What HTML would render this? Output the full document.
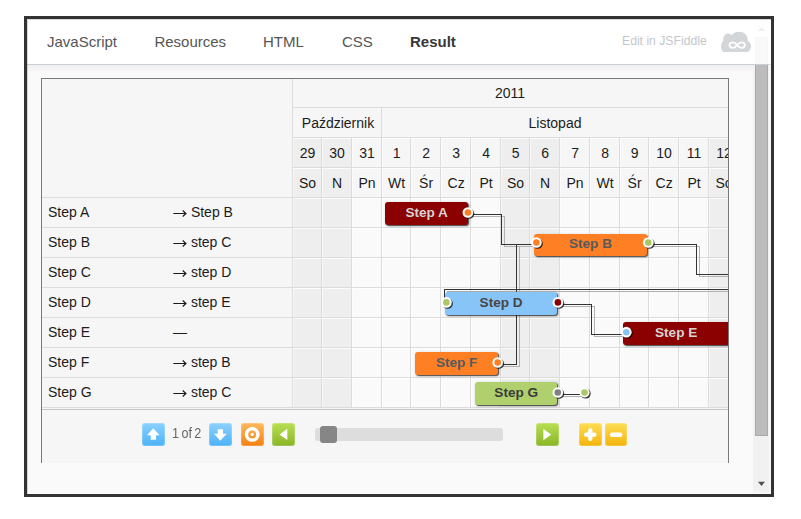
<!DOCTYPE html>
<html>
<head>
<meta charset="utf-8">
<title>Gantt</title>
<style>
*{box-sizing:border-box;margin:0;padding:0}
html,body{width:801px;height:519px;overflow:hidden;background:#fff}
body{font-family:"Liberation Sans",sans-serif;color:#222;position:relative}
.abs{position:absolute}
#frame{position:absolute;left:24px;top:16px;width:750px;height:481px;border:3px solid #333;background:#fafafa;overflow:hidden}
#pg{position:absolute;left:-27px;top:-19px;width:801px;height:519px}
#hdr{position:absolute;left:27px;top:19px;width:726px;height:45px;background:#fff}
#hdrline{position:absolute;left:27px;top:64px;width:744px;height:1px;background:#c8ced4}
#hdrshadow{position:absolute;left:27px;top:65px;width:726px;height:8px;background:linear-gradient(#efefef,#fafafa)}
.tab{position:absolute;top:32px;height:20px;line-height:20px;font-size:15px;color:#555;white-space:nowrap}
.tab.on{font-weight:bold;color:#383838}
#edit{position:absolute;left:622px;top:33px;font-size:12.2px;line-height:16px;color:#c3c7cb;white-space:nowrap}
#sbtrack{position:absolute;left:753px;top:19px;width:18px;height:475px;background:#f1f1f1}
#sbthumb{position:absolute;left:755px;top:37px;width:13px;height:399px;background:#bcbcbc;border:1px solid #a9a9a9}
#hdrover{position:absolute;left:753px;top:19px;width:18px;height:45px;background:rgba(255,255,255,.9)}
#gantt{position:absolute;left:41px;top:78px;width:688px;height:385px;background:#f6f6f6;border:1px solid #7a7a7a;border-bottom:none}
.clip{position:absolute;left:292px;top:79px;width:436px;height:329px;overflow:hidden}
.clip>.in{position:absolute;left:-292px;top:-79px;width:801px;height:519px}
.hl{position:absolute;height:1px;background:#dcdcdc}
.vl{position:absolute;width:1px;background:#dcdcdc}
.wl{background:rgba(255,255,255,.5)}
.txt{position:absolute;font-size:14px;line-height:16px;white-space:nowrap;color:#1c1c1c}
.c{text-align:center}
.arw{display:inline-block;vertical-align:baseline;position:relative;top:1px}
.bar{position:absolute;height:23px;border-radius:3px;box-shadow:1px 1px 1px rgba(0,0,0,.6),1px 1px 3px rgba(0,0,0,.3);font-weight:bold;font-size:13.6px;line-height:20px;text-align:center;white-space:nowrap}
.ep{position:absolute;border-radius:50%;border:2.4px solid #fff;box-shadow:1.2px 1.2px 1.2px rgba(0,0,0,.75)}
.btn{position:absolute;top:423px;width:22.5px;height:22.7px;border-radius:3px;box-shadow:inset 0 0 0 1px rgba(255,255,255,.2)}
.blue{background:linear-gradient(#8bd1fd,#4db2f8)}
.orange{background:linear-gradient(#fdb95e,#f4800e)}
.green{background:linear-gradient(#b9df52,#88b527)}
.yellow{background:linear-gradient(#fedd55,#f3b40c)}
.btn svg{position:absolute;left:0;top:0}
</style>
</head>
<body>
<div id="frame"><div id="pg">
<div id="sbtrack"></div><div id="sbthumb"></div>
<svg class="abs" style="left:754px;top:19px" width="17" height="17"><path d="M4 12 L7.5 8 L11 12 Z" fill="#505050"/></svg>
<svg class="abs" style="left:754px;top:477px" width="17" height="17"><path d="M4 4.7 L11 4.7 L7.5 8.9 Z" fill="#505050"/></svg>
<div id="hdr"></div><div id="hdrover"></div><div id="hdrline"></div><div id="hdrshadow"></div>
<div class="tab" style="left:47px">JavaScript</div>
<div class="tab" style="left:154.4px">Resources</div>
<div class="tab" style="left:263px">HTML</div>
<div class="tab" style="left:342px">CSS</div>
<div class="tab on" style="left:410px">Result</div>
<div id="edit">Edit in JSFiddle</div>
<svg class="abs" style="left:716px;top:28px" width="40" height="28" viewBox="716 28 40 28">
<path fill="#d2d6d9" d="M724.3 52 C722.4 52 721.1 49.5 721.1 46.5 C721.1 44 722 42 723.6 40.6 C723.2 39.5 723.2 38.3 723.5 37.2 C724.2 34.8 726 33.4 727.8 33.4 C729.3 33.4 730.7 34 731.7 35.1 C733.2 33 735.9 31.8 739.2 31.8 C743.8 31.8 747.6 35 747.6 39 C747.6 39.8 747.7 40.5 747.6 41.1 C749.7 41.9 751 43.9 751 46.2 C751 49.5 749 52 746.5 52 Z"/>
<path d="M736.7 45.1 C735.3 43.2 734 42.4 732.3 42.4 C730.4 42.4 729 43.6 729 45.1 C729 46.6 730.4 47.8 732.3 47.8 C734 47.8 735.3 47 736.7 45.1 C738.1 43.2 739.4 42.4 741.1 42.4 C743 42.4 744.4 43.6 744.4 45.1 C744.4 46.6 743 47.8 741.1 47.8 C739.4 47.8 738.1 47 736.7 45.1 Z" fill="none" stroke="#fff" stroke-width="1.8" transform="translate(0.5,0)"/>
</svg>
<div id="gantt"></div>
<div class="clip"><div class="in">
<div class="abs" style="left:292px;top:198px;width:436px;height:210px;background:#fafafa"></div>
<div class="abs" style="left:292px;top:138px;width:59px;height:270px;background:#eeeeee"></div>
<div class="abs" style="left:500px;top:138px;width:59px;height:270px;background:#eeeeee"></div>
<div class="abs" style="left:708px;top:138px;width:62px;height:270px;background:#eeeeee"></div>
<div class="hl wl" style="left:293px;top:138px;width:435px;background:rgba(255,255,255,.75)"></div>
<div class="hl wl" style="left:293px;top:168px;width:435px;background:rgba(255,255,255,.75)"></div>
<div class="hl wl" style="left:293px;top:198px;width:435px;background:rgba(255,255,255,.75)"></div>
<div class="hl wl" style="left:293px;top:228px;width:435px;background:rgba(255,255,255,.75)"></div>
<div class="hl wl" style="left:293px;top:258px;width:435px;background:rgba(255,255,255,.75)"></div>
<div class="hl wl" style="left:293px;top:288px;width:435px;background:rgba(255,255,255,.75)"></div>
<div class="hl wl" style="left:293px;top:318px;width:435px;background:rgba(255,255,255,.75)"></div>
<div class="hl wl" style="left:293px;top:348px;width:435px;background:rgba(255,255,255,.75)"></div>
<div class="hl wl" style="left:293px;top:378px;width:435px;background:rgba(255,255,255,.75)"></div>
<div class="vl wl" style="left:293px;top:138px;height:270px"></div>
<div class="vl wl" style="left:322px;top:138px;height:270px"></div>
<div class="vl wl" style="left:352px;top:138px;height:270px"></div>
<div class="vl wl" style="left:382px;top:138px;height:270px"></div>
<div class="vl wl" style="left:411px;top:138px;height:270px"></div>
<div class="vl wl" style="left:441px;top:138px;height:270px"></div>
<div class="vl wl" style="left:471px;top:138px;height:270px"></div>
<div class="vl wl" style="left:501px;top:138px;height:270px"></div>
<div class="vl wl" style="left:530px;top:138px;height:270px"></div>
<div class="vl wl" style="left:560px;top:138px;height:270px"></div>
<div class="vl wl" style="left:590px;top:138px;height:270px"></div>
<div class="vl wl" style="left:620px;top:138px;height:270px"></div>
<div class="vl wl" style="left:649px;top:138px;height:270px"></div>
<div class="vl wl" style="left:679px;top:138px;height:270px"></div>
<div class="vl wl" style="left:709px;top:138px;height:270px"></div>
<div class="hl" style="left:293px;top:107px;width:435px"></div>
<div class="hl" style="left:293px;top:137px;width:435px"></div>
<div class="hl" style="left:293px;top:167px;width:435px"></div>
</div></div>
<div class="hl" style="left:42px;top:197px;width:686px"></div>
<div class="hl" style="left:42px;top:227px;width:686px"></div>
<div class="hl" style="left:42px;top:257px;width:686px"></div>
<div class="hl" style="left:42px;top:287px;width:686px"></div>
<div class="hl" style="left:42px;top:317px;width:686px"></div>
<div class="hl" style="left:42px;top:347px;width:686px"></div>
<div class="hl" style="left:42px;top:377px;width:686px"></div>
<div class="hl" style="left:42px;top:407px;width:686px"></div>
<div class="vl" style="left:292px;top:79px;height:329px"></div>
<div class="vl" style="left:321px;top:138px;height:270px"></div>
<div class="vl" style="left:351px;top:138px;height:270px"></div>
<div class="vl" style="left:381px;top:108px;height:300px"></div>
<div class="vl" style="left:410px;top:138px;height:270px"></div>
<div class="vl" style="left:440px;top:138px;height:270px"></div>
<div class="vl" style="left:470px;top:138px;height:270px"></div>
<div class="vl" style="left:500px;top:138px;height:270px"></div>
<div class="vl" style="left:529px;top:138px;height:270px"></div>
<div class="vl" style="left:559px;top:138px;height:270px"></div>
<div class="vl" style="left:589px;top:138px;height:270px"></div>
<div class="vl" style="left:619px;top:138px;height:270px"></div>
<div class="vl" style="left:648px;top:138px;height:270px"></div>
<div class="vl" style="left:678px;top:138px;height:270px"></div>
<div class="vl" style="left:708px;top:138px;height:270px"></div>
<div class="txt c" style="left:480px;top:85px;width:60px">2011</div>
<div class="txt c" style="left:293px;top:115px;width:90px">Październik</div>
<div class="txt c" style="left:505px;top:115px;width:100px">Listopad</div>
<div class="clip"><div class="in">
<div class="txt c" style="left:293.6px;top:145px;width:28px">29</div>
<div class="txt c" style="left:293.6px;top:175px;width:28px">So</div>
<div class="txt c" style="left:322.6px;top:145px;width:29px">30</div>
<div class="txt c" style="left:322.6px;top:175px;width:29px">N</div>
<div class="txt c" style="left:352.6px;top:145px;width:29px">31</div>
<div class="txt c" style="left:352.6px;top:175px;width:29px">Pn</div>
<div class="txt c" style="left:382.6px;top:145px;width:28px">1</div>
<div class="txt c" style="left:382.6px;top:175px;width:28px">Wt</div>
<div class="txt c" style="left:411.6px;top:145px;width:29px">2</div>
<div class="txt c" style="left:411.6px;top:175px;width:29px">Śr</div>
<div class="txt c" style="left:441.6px;top:145px;width:29px">3</div>
<div class="txt c" style="left:441.6px;top:175px;width:29px">Cz</div>
<div class="txt c" style="left:471.6px;top:145px;width:29px">4</div>
<div class="txt c" style="left:471.6px;top:175px;width:29px">Pt</div>
<div class="txt c" style="left:501.6px;top:145px;width:28px">5</div>
<div class="txt c" style="left:501.6px;top:175px;width:28px">So</div>
<div class="txt c" style="left:530.6px;top:145px;width:29px">6</div>
<div class="txt c" style="left:530.6px;top:175px;width:29px">N</div>
<div class="txt c" style="left:560.6px;top:145px;width:29px">7</div>
<div class="txt c" style="left:560.6px;top:175px;width:29px">Pn</div>
<div class="txt c" style="left:590.6px;top:145px;width:29px">8</div>
<div class="txt c" style="left:590.6px;top:175px;width:29px">Wt</div>
<div class="txt c" style="left:620.6px;top:145px;width:28px">9</div>
<div class="txt c" style="left:620.6px;top:175px;width:28px">Śr</div>
<div class="txt c" style="left:649.6px;top:145px;width:29px">10</div>
<div class="txt c" style="left:649.6px;top:175px;width:29px">Cz</div>
<div class="txt c" style="left:679.6px;top:145px;width:29px">11</div>
<div class="txt c" style="left:679.6px;top:175px;width:29px">Pt</div>
<div class="txt c" style="left:709.6px;top:145px;width:29px">12</div>
<div class="txt c" style="left:709.6px;top:175px;width:29px">So</div>
</div></div>
<div class="txt" style="left:48px;top:204px">Step A</div><div class="txt" style="left:173px;top:204px"><svg class="arw" width="14" height="10" viewBox="0 0 14 10"><path d="M0.3 5.5 H12.8 M9.7 2.5 L13 5.5 L9.7 8.5" fill="none" stroke="#1a1a1a" stroke-width="1.1"/></svg> Step B</div>
<div class="txt" style="left:48px;top:234px">Step B</div><div class="txt" style="left:173px;top:234px"><svg class="arw" width="14" height="10" viewBox="0 0 14 10"><path d="M0.3 5.5 H12.8 M9.7 2.5 L13 5.5 L9.7 8.5" fill="none" stroke="#1a1a1a" stroke-width="1.1"/></svg> step C</div>
<div class="txt" style="left:48px;top:264px">Step C</div><div class="txt" style="left:173px;top:264px"><svg class="arw" width="14" height="10" viewBox="0 0 14 10"><path d="M0.3 5.5 H12.8 M9.7 2.5 L13 5.5 L9.7 8.5" fill="none" stroke="#1a1a1a" stroke-width="1.1"/></svg> step D</div>
<div class="txt" style="left:48px;top:294px">Step D</div><div class="txt" style="left:173px;top:294px"><svg class="arw" width="14" height="10" viewBox="0 0 14 10"><path d="M0.3 5.5 H12.8 M9.7 2.5 L13 5.5 L9.7 8.5" fill="none" stroke="#1a1a1a" stroke-width="1.1"/></svg> step E</div>
<div class="txt" style="left:48px;top:324px">Step E</div><div class="txt" style="left:173px;top:324px">—</div>
<div class="txt" style="left:48px;top:354px">Step F</div><div class="txt" style="left:173px;top:354px"><svg class="arw" width="14" height="10" viewBox="0 0 14 10"><path d="M0.3 5.5 H12.8 M9.7 2.5 L13 5.5 L9.7 8.5" fill="none" stroke="#1a1a1a" stroke-width="1.1"/></svg> step B</div>
<div class="txt" style="left:48px;top:384px">Step G</div><div class="txt" style="left:173px;top:384px"><svg class="arw" width="14" height="10" viewBox="0 0 14 10"><path d="M0.3 5.5 H12.8 M9.7 2.5 L13 5.5 L9.7 8.5" fill="none" stroke="#1a1a1a" stroke-width="1.1"/></svg> step C</div>
<svg class="abs" style="left:292px;top:79px" width="436" height="329" viewBox="292 79 436 329" shape-rendering="crispEdges" fill="none">
<g stroke="#b2b2b2" stroke-width="1" transform="translate(3,2)"><path d="M468 214.5 H501.5 V244.5 H532"/><path d="M498 364.5 H516.5 V244.5"/><path d="M649 244.5 H696.5 V274.5 H728"/><path d="M728 289.5 H444.5 V300"/><path d="M558 304.5 H591.5 V334.5 H623"/><path d="M558 394.5 H582"/></g>
<g stroke="#333" stroke-width="1"><path d="M468 214.5 H501.5 V244.5 H532"/><path d="M498 364.5 H516.5 V244.5"/><path d="M649 244.5 H696.5 V274.5 H728"/><path d="M728 289.5 H444.5 V300"/><path d="M558 304.5 H591.5 V334.5 H623"/><path d="M558 394.5 H582"/></g>
</svg>
<div class="clip"><div class="in">
<div class="bar" style="left:385px;top:202px;width:83.3px;height:23px;line-height:22px;background:#8b0000;color:#d4d4d4">Step A</div>
<div class="bar" style="left:534px;top:234px;width:113px;height:22px;line-height:20px;background:#ff7f24;color:#555a5e">Step B</div>
<div class="bar" style="left:445px;top:292px;width:112.3px;height:23px;line-height:22px;background:#87c4f8;color:#4a4444">Step D</div>
<div class="bar" style="left:623.2px;top:322px;width:130px;height:23px;line-height:22px;background:#8b0000;color:#d4d4d4;text-align:left;padding-left:31.8px">Step E</div>
<div class="bar" style="left:415px;top:352px;width:83.3px;height:23px;line-height:22px;background:#ff7f24;color:#555a5e">Step F</div>
<div class="bar" style="left:475.2px;top:382px;width:82.1px;height:23px;line-height:22px;background:#b0d06e;color:#3c3c3c">Step G</div>
<svg class="abs" style="left:292px;top:79px" width="436" height="329" viewBox="292 79 436 329"><defs><filter id="b" x="-50%" y="-50%" width="200%" height="200%"><feGaussianBlur stdDeviation="0.55"/></filter></defs>
<circle cx="469.1" cy="213.6" r="5.25" fill="#000" fill-opacity=".75" filter="url(#b)"/><circle cx="467.9" cy="212.5" r="5.35" fill="#fff"/><circle cx="467.9" cy="212.5" r="3.3" fill="#ff7f24"/>
<circle cx="537.6" cy="243.6" r="5.25" fill="#000" fill-opacity=".75" filter="url(#b)"/><circle cx="536.4" cy="242.5" r="5.35" fill="#fff"/><circle cx="536.4" cy="242.5" r="3.3" fill="#ff7f24"/>
<circle cx="649.5" cy="243.6" r="5.25" fill="#000" fill-opacity=".75" filter="url(#b)"/><circle cx="648.3" cy="242.5" r="5.35" fill="#fff"/><circle cx="648.3" cy="242.5" r="3.3" fill="#a9c966"/>
<circle cx="447.6" cy="303.5" r="5.25" fill="#000" fill-opacity=".75" filter="url(#b)"/><circle cx="446.4" cy="302.4" r="5.35" fill="#fff"/><circle cx="446.4" cy="302.4" r="3.3" fill="#a9c966"/>
<circle cx="559.1" cy="303.5" r="5.25" fill="#000" fill-opacity=".75" filter="url(#b)"/><circle cx="557.9" cy="302.4" r="5.35" fill="#fff"/><circle cx="557.9" cy="302.4" r="3.3" fill="#8b0000"/>
<circle cx="627.5" cy="333.3" r="5.25" fill="#000" fill-opacity=".75" filter="url(#b)"/><circle cx="626.3" cy="332.2" r="5.35" fill="#fff"/><circle cx="626.3" cy="332.2" r="3.3" fill="#87c4f8"/>
<circle cx="498.9" cy="363.6" r="5.25" fill="#000" fill-opacity=".75" filter="url(#b)"/><circle cx="497.7" cy="362.5" r="5.35" fill="#fff"/><circle cx="497.7" cy="362.5" r="3.3" fill="#ff7f24"/>
<circle cx="559" cy="393.6" r="5.25" fill="#000" fill-opacity=".75" filter="url(#b)"/><circle cx="557.8" cy="392.5" r="5.35" fill="#fff"/><circle cx="557.8" cy="392.5" r="3.3" fill="#808080"/>
<circle cx="585.7" cy="393.6" r="5" fill="#000" fill-opacity=".75" filter="url(#b)"/><circle cx="584.5" cy="392.5" r="5.1" fill="#fff"/><circle cx="584.5" cy="392.5" r="3.3" fill="#a9c966"/>
</svg>
</div></div>
<div class="hl" style="left:42px;top:409px;width:686px;background:#c4c4c4"></div>
<div class="btn blue" style="left:142px"><svg width="23" height="23"><path d="M11.3 5.3 L17.6 12.3 L14 12.3 L14 16.8 L8.7 16.8 L8.7 12.3 L5 12.3 Z" fill="#fff"/></svg></div>
<div class="abs" style="left:172.3px;top:424.5px;font-size:14px;line-height:16px;color:#666;white-space:nowrap;word-spacing:-1.25px;transform:scaleX(.9);transform-origin:0 0">1 of 2</div>
<div class="btn blue" style="left:209.4px"><svg width="23" height="23"><path d="M11.3 17.7 L17.6 10.7 L14 10.7 L14 6.2 L8.7 6.2 L8.7 10.7 L5 10.7 Z" fill="#fff"/></svg></div>
<div class="btn orange" style="left:241.3px"><svg width="23" height="23"><circle cx="11.2" cy="11.4" r="5.7" fill="none" stroke="#fff" stroke-width="3.5"/><circle cx="11.2" cy="11.4" r="1.7" fill="#fff"/></svg></div>
<div class="btn green" style="left:272.3px"><svg width="23" height="23"><path d="M7.5 11.4 L15.3 5.7 L15.3 17 Z" fill="#fff"/></svg></div>
<div class="abs" style="left:315px;top:428px;width:188px;height:13px;border-radius:3px;background:#dddddd"></div>
<div class="abs" style="left:320px;top:426px;width:17px;height:17px;border-radius:3px;background:#868686"></div>
<div class="btn green" style="left:536.4px"><svg width="23" height="23"><path d="M15.3 11.6 L7.4 6 L7.4 17.3 Z" fill="#fff"/></svg></div>
<div class="btn yellow" style="left:579.4px"><svg width="23" height="23"><path d="M11.3 7.5 V15.7 M7.2 11.6 H15.4" stroke="#fff" stroke-width="4.4" stroke-linecap="round"/></svg></div>
<div class="btn yellow" style="left:604.7px"><svg width="23" height="23"><path d="M7.1 11.7 H15.3" stroke="#fff" stroke-width="4.4" stroke-linecap="round"/></svg></div>
<div class="abs" style="left:769px;top:64px;width:2px;height:430px;background:rgba(255,255,255,.45)"></div>
<div class="abs" style="left:753px;top:492px;width:18px;height:2px;background:rgba(255,255,255,.5)"></div>
<div class="abs" style="left:27px;top:19px;width:744px;height:1px;background:rgba(50,62,75,.2)"></div>
<div class="abs" style="left:27px;top:20px;width:1px;height:474px;background:rgba(50,62,75,.2)"></div>
</div></div>
</body>
</html>
